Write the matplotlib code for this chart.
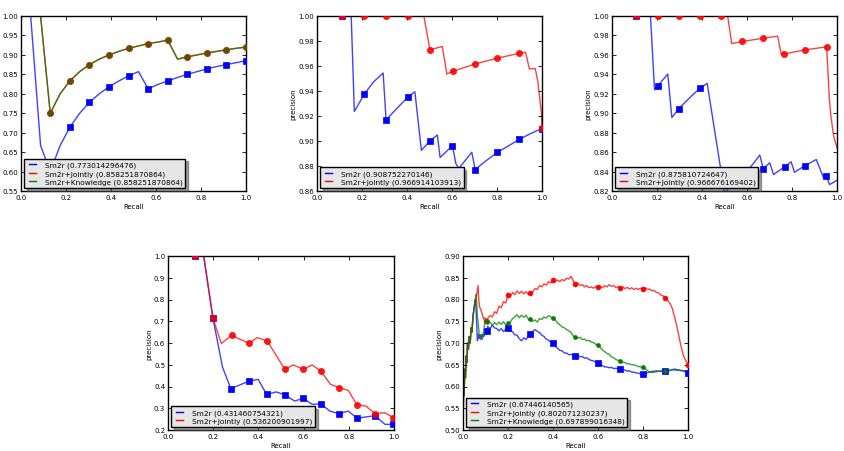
import matplotlib
matplotlib.use('Agg')
import matplotlib.pyplot as plt
from matplotlib.ticker import FormatStrFormatter, MultipleLocator

# ---------------- data ----------------
# Plot 1
p1_recall = [0.043, 0.087, 0.130, 0.174, 0.217, 0.261, 0.304, 0.348, 0.391, 0.435, 0.478, 0.522,
             0.565, 0.609, 0.652, 0.696, 0.739, 0.783, 0.826, 0.870, 0.913, 0.957, 1.0]
p1_sm2r = [1.0, 0.667, 0.600, 0.667, 0.714, 0.750, 0.778, 0.800, 0.818, 0.833, 0.846, 0.857,
           0.813, 0.824, 0.833, 0.842, 0.850, 0.857, 0.864, 0.870, 0.875, 0.880, 0.885]
p1_jointly = [1.0, 1.0, 0.750, 0.800, 0.833, 0.857, 0.875, 0.889, 0.900, 0.909, 0.917, 0.923,
              0.929, 0.933, 0.938, 0.889, 0.895, 0.900, 0.905, 0.909, 0.913, 0.917, 0.920]
p1_knowledge = [1.0, 1.0, 0.750, 0.800, 0.833, 0.857, 0.875, 0.889, 0.900, 0.909, 0.917, 0.923,
                0.929, 0.933, 0.938, 0.889, 0.895, 0.900, 0.905, 0.909, 0.913, 0.917, 0.920]
p1_labels = ['Sm2r (0.773014296476)', 'Sm2r+Jointly (0.858251870864)',
             'Sm2r+Knowledge (0.858251870864)']

# Plot 2
p2_sm2r_r = [0.111, 0.152, 0.166, 0.21, 0.25, 0.294, 0.307, 0.36, 0.406, 0.435, 0.464, 0.502, 0.535,
             0.547, 0.602, 0.617, 0.63, 0.688, 0.703, 0.75, 0.801, 0.85, 0.899, 0.95, 1.0]
p2_sm2r_p = [1.0, 1.0, 0.9236, 0.9375, 0.947, 0.9544, 0.9169, 0.927, 0.9356, 0.9394, 0.8925, 0.9002,
             0.9048, 0.8868, 0.8962, 0.882, 0.878, 0.891, 0.8772, 0.884, 0.8909, 0.896, 0.9013, 0.906, 0.910]
p2_sm2r_mr = [0.111, 0.21, 0.307, 0.406, 0.502, 0.602, 0.703, 0.801, 0.899, 1.0]
p2_sm2r_mp = [1.0, 0.9375, 0.9169, 0.9356, 0.9002, 0.8962, 0.8772, 0.8909, 0.9013, 0.910]
p2_joint_r = [0.111, 0.21, 0.307, 0.406, 0.475, 0.502, 0.557, 0.577, 0.605, 0.703, 0.801, 0.899,
              0.927, 0.944, 0.970, 0.982, 0.997, 1.0]
p2_joint_p = [1.0, 1.0, 1.0, 1.0, 1.0, 0.973, 0.9756, 0.9536, 0.9558, 0.9617, 0.9662, 0.9702,
              0.971, 0.9576, 0.958, 0.947, 0.923, 0.9107]
p2_joint_mr = [0.111, 0.21, 0.307, 0.406, 0.502, 0.605, 0.703, 0.801, 0.899, 1.0]
p2_joint_mp = [1.0, 1.0, 1.0, 1.0, 0.973, 0.9558, 0.9617, 0.9662, 0.9702, 0.9107]
p2_labels = ['Sm2r (0.908752270146)', 'Sm2r+Jointly (0.966914103913)']

# Plot 3
p3_sm2r_r = [0.108, 0.171, 0.189, 0.204, 0.248, 0.266, 0.297, 0.35, 0.392, 0.423, 0.50, 0.55, 0.60,
             0.657, 0.672, 0.701, 0.718, 0.767, 0.796, 0.811, 0.859, 0.908, 0.941, 0.952, 0.967, 1.0]
p3_sm2r_p = [1.0, 1.0, 0.924, 0.9283, 0.9403, 0.8955, 0.9048, 0.917, 0.9259, 0.9307, 0.818, 0.83,
             0.84, 0.857, 0.843, 0.849, 0.837, 0.8448, 0.85, 0.8393, 0.8462, 0.8524, 0.8331, 0.8359,
             0.8266, 0.831]
p3_sm2r_mr = [0.108, 0.204, 0.297, 0.392, 0.672, 0.767, 0.859, 0.952]
p3_sm2r_mp = [1.0, 0.9283, 0.9048, 0.9259, 0.843, 0.8448, 0.8462, 0.8359]
p3_joint_r = [0.108, 0.204, 0.299, 0.392, 0.486, 0.514, 0.532, 0.580, 0.673, 0.736, 0.752, 0.765,
              0.859, 0.954, 0.966, 0.973, 0.985, 1.0]
p3_joint_p = [1.0, 1.0, 1.0, 1.0, 1.0, 1.0, 0.9717, 0.9738, 0.9772, 0.9793, 0.961, 0.961,
              0.9652, 0.9683, 0.9145, 0.897, 0.8766, 0.8645]
p3_joint_mr = [0.108, 0.204, 0.299, 0.392, 0.486, 0.580, 0.673, 0.765, 0.859, 0.954]
p3_joint_mp = [1.0, 1.0, 1.0, 1.0, 1.0, 0.9738, 0.9772, 0.961, 0.9652, 0.9683]
p3_labels = ['Sm2r (0.875810724647)', 'Sm2r+Jointly (0.966676169402)']

# Plot 4
p4_sm2r_r = [0.037, 0.118, 0.158, 0.199, 0.241, 0.278, 0.359, 0.399, 0.436, 0.48, 0.517, 0.561,
             0.598, 0.638, 0.677, 0.716, 0.756, 0.798, 0.836, 0.876, 0.916, 0.96, 0.997]
p4_sm2r_p = [1.0, 1.0, 1.0, 0.713, 0.49, 0.39, 0.425, 0.433, 0.364, 0.375, 0.361, 0.333,
             0.346, 0.318, 0.320, 0.287, 0.275, 0.287, 0.254, 0.260, 0.266, 0.226, 0.226]
p4_sm2r_mr = [0.118, 0.199, 0.278, 0.359, 0.436, 0.517, 0.598, 0.677, 0.756, 0.836, 0.916, 0.997]
p4_sm2r_mp = [1.0, 0.713, 0.39, 0.425, 0.364, 0.361, 0.346, 0.320, 0.275, 0.254, 0.266, 0.226]
p4_joint_r = [0.037, 0.118, 0.158, 0.199, 0.236, 0.281, 0.359, 0.394, 0.439, 0.517, 0.554, 0.598,
              0.638, 0.677, 0.719, 0.756, 0.798, 0.835, 0.876, 0.916, 0.959, 0.997]
p4_joint_p = [1.0, 1.0, 1.0, 0.713, 0.598, 0.635, 0.598, 0.625, 0.609, 0.479, 0.499, 0.48,
              0.499, 0.47, 0.41, 0.395, 0.382, 0.316, 0.31, 0.275, 0.28, 0.257]
p4_joint_mr = [0.118, 0.199, 0.281, 0.359, 0.439, 0.517, 0.598, 0.677, 0.756, 0.835, 0.916, 0.997]
p4_joint_mp = [1.0, 0.713, 0.635, 0.598, 0.609, 0.479, 0.48, 0.47, 0.395, 0.316, 0.275, 0.257]
p4_labels = ['Sm2r (0.431460754321)', 'Sm2r+Jointly (0.536200901997)']

# Plot 5
p5_start_r = [0.0, 0.003, 0.005, 0.008, 0.011, 0.014, 0.017, 0.02, 0.024, 0.028, 0.032, 0.036,
              0.04, 0.044, 0.048, 0.052, 0.055]
p5_start_p = [0.50, 0.60, 0.58, 0.64, 0.62, 0.67, 0.655, 0.70, 0.685, 0.715, 0.70, 0.735,
              0.725, 0.76, 0.775, 0.79, 0.80]
p5_sm2r_r = [0.058, 0.062, 0.064, 0.068, 0.072, 0.076, 0.08, 0.086, 0.092, 0.105,
             0.11, 0.12, 0.13, 0.14, 0.15, 0.16, 0.17, 0.18, 0.19, 0.20,
             0.21, 0.22, 0.23, 0.24, 0.25, 0.26, 0.27, 0.28, 0.29, 0.30,
             0.31, 0.32, 0.33, 0.34, 0.35, 0.36, 0.37, 0.38, 0.39, 0.40,
             0.41, 0.42, 0.43, 0.44, 0.45, 0.46, 0.47, 0.48, 0.49, 0.50,
             0.51, 0.52, 0.53, 0.54, 0.55, 0.56, 0.57, 0.58, 0.59, 0.60,
             0.61, 0.62, 0.63, 0.64, 0.65, 0.66, 0.67, 0.68, 0.69, 0.70,
             0.71, 0.72, 0.73, 0.74, 0.75, 0.76, 0.77, 0.78, 0.79, 0.80,
             0.81, 0.82, 0.83, 0.84, 0.85, 0.86, 0.87, 0.88, 0.89, 0.90,
             0.91, 0.92, 0.93, 0.94, 0.95, 0.96, 0.97, 0.98, 0.99, 1.00]
p5_sm2r_p = [0.78, 0.73, 0.705, 0.72, 0.71, 0.718, 0.708, 0.72, 0.715, 0.728,
             0.738, 0.733, 0.741, 0.735, 0.733, 0.728, 0.733, 0.726, 0.732, 0.734,
             0.728, 0.726, 0.719, 0.718, 0.710, 0.705, 0.712, 0.708, 0.716, 0.721,
             0.726, 0.731, 0.727, 0.724, 0.718, 0.715, 0.709, 0.706, 0.702, 0.699,
             0.692, 0.688, 0.683, 0.682, 0.677, 0.677, 0.673, 0.674, 0.671, 0.671,
             0.672, 0.668, 0.669, 0.665, 0.666, 0.662, 0.660, 0.659, 0.656, 0.655,
             0.650, 0.648, 0.645, 0.645, 0.643, 0.644, 0.641, 0.642, 0.640, 0.640,
             0.638, 0.638, 0.635, 0.636, 0.633, 0.633, 0.631, 0.631, 0.628, 0.628,
             0.629, 0.632, 0.633, 0.635, 0.635, 0.636, 0.635, 0.636, 0.635, 0.635,
             0.636, 0.637, 0.639, 0.640, 0.639, 0.638, 0.637, 0.636, 0.633, 0.632]
p5_joint_r = [0.058, 0.062, 0.067, 0.07, 0.074, 0.08, 0.086, 0.092, 0.098, 0.104,
              0.11, 0.12, 0.13, 0.14, 0.15, 0.16, 0.17, 0.18, 0.19, 0.20,
              0.21, 0.22, 0.23, 0.24, 0.25, 0.26, 0.27, 0.28, 0.29, 0.30,
              0.31, 0.32, 0.33, 0.34, 0.35, 0.36, 0.37, 0.38, 0.39, 0.40,
              0.41, 0.42, 0.43, 0.44, 0.45, 0.46, 0.47, 0.48, 0.49, 0.50,
              0.51, 0.52, 0.53, 0.54, 0.55, 0.56, 0.57, 0.58, 0.59, 0.60,
              0.61, 0.62, 0.63, 0.64, 0.65, 0.66, 0.67, 0.68, 0.69, 0.70,
              0.71, 0.72, 0.73, 0.74, 0.75, 0.76, 0.77, 0.78, 0.79, 0.80,
              0.81, 0.82, 0.83, 0.84, 0.85, 0.86, 0.87, 0.88, 0.89, 0.90,
              0.91, 0.92, 0.93, 0.94, 0.95, 0.96, 0.97, 0.98, 0.99, 1.00]
p5_joint_p = [0.805, 0.815, 0.832, 0.80, 0.782, 0.776, 0.765, 0.755, 0.758, 0.750,
              0.757, 0.763, 0.760, 0.772, 0.768, 0.785, 0.781, 0.795, 0.792, 0.810,
              0.806, 0.816, 0.811, 0.820, 0.814, 0.819, 0.813, 0.818, 0.812, 0.815,
              0.818, 0.825, 0.823, 0.832, 0.829, 0.836, 0.833, 0.841, 0.838, 0.845,
              0.842, 0.845, 0.841, 0.846, 0.843, 0.849, 0.847, 0.853, 0.843, 0.835,
              0.838, 0.832, 0.834, 0.829, 0.832, 0.827, 0.829, 0.826, 0.830, 0.828,
              0.830, 0.827, 0.832, 0.829, 0.834, 0.830, 0.832, 0.827, 0.830, 0.827,
              0.829, 0.825, 0.828, 0.824, 0.827, 0.823, 0.826, 0.823, 0.826, 0.825,
              0.827, 0.823, 0.824, 0.820, 0.821, 0.816, 0.815, 0.810, 0.808, 0.803,
              0.797, 0.791, 0.780, 0.760, 0.740, 0.715, 0.690, 0.670, 0.660, 0.650]
p5_know_r = [0.059, 0.064, 0.068, 0.072, 0.076, 0.08, 0.086, 0.092, 0.096, 0.105,
             0.11, 0.12, 0.13, 0.14, 0.15, 0.16, 0.17, 0.18, 0.19, 0.20,
             0.21, 0.22, 0.23, 0.24, 0.25, 0.26, 0.27, 0.28, 0.29, 0.30,
             0.31, 0.32, 0.33, 0.34, 0.35, 0.36, 0.37, 0.38, 0.39, 0.40,
             0.41, 0.42, 0.43, 0.44, 0.45, 0.46, 0.47, 0.48, 0.49, 0.50,
             0.51, 0.52, 0.53, 0.54, 0.55, 0.56, 0.57, 0.58, 0.59, 0.60,
             0.61, 0.62, 0.63, 0.64, 0.65, 0.66, 0.67, 0.68, 0.69, 0.70,
             0.71, 0.72, 0.73, 0.74, 0.75, 0.76, 0.77, 0.78, 0.79, 0.80,
             0.81, 0.82, 0.83, 0.84, 0.85, 0.86, 0.87, 0.88, 0.89, 0.90,
             0.91, 0.92, 0.93, 0.94, 0.95, 0.96, 0.97, 0.98, 0.99, 1.00]
p5_know_p = [0.812, 0.760, 0.743, 0.720, 0.714, 0.720, 0.708, 0.728, 0.743, 0.750,
             0.742, 0.748, 0.741, 0.747, 0.742, 0.748, 0.743, 0.749, 0.741, 0.745,
             0.748, 0.756, 0.760, 0.765, 0.758, 0.764, 0.759, 0.764, 0.755, 0.755,
             0.750, 0.753, 0.748, 0.756, 0.754, 0.760, 0.757, 0.763, 0.760, 0.757,
             0.753, 0.746, 0.742, 0.737, 0.735, 0.731, 0.728, 0.724, 0.716, 0.713,
             0.711, 0.713, 0.708, 0.709, 0.705, 0.706, 0.702, 0.701, 0.697, 0.696,
             0.690, 0.684, 0.680, 0.676, 0.674, 0.668, 0.666, 0.662, 0.660, 0.659,
             0.656, 0.655, 0.652, 0.652, 0.650, 0.650, 0.648, 0.646, 0.645, 0.645,
             0.641, 0.637, 0.633, 0.632, 0.633, 0.634, 0.635, 0.635, 0.636, 0.636,
             0.637, 0.637, 0.638, 0.638, 0.637, 0.637, 0.636, 0.636, 0.636, 0.635]
p5_sm2r_mr = [0.105, 0.20, 0.30, 0.40, 0.50, 0.60, 0.70, 0.80, 0.90, 1.00]
p5_sm2r_mp = [0.728, 0.734, 0.721, 0.699, 0.671, 0.655, 0.640, 0.628, 0.635, 0.632]
p5_joint_mr = [0.104, 0.20, 0.30, 0.40, 0.50, 0.60, 0.70, 0.80, 0.90, 1.00]
p5_joint_mp = [0.750, 0.810, 0.815, 0.845, 0.835, 0.828, 0.827, 0.825, 0.803, 0.650]
p5_know_mr = [0.105, 0.20, 0.30, 0.40, 0.50, 0.60, 0.70, 0.80, 0.90]
p5_know_mp = [0.750, 0.745, 0.755, 0.757, 0.713, 0.696, 0.659, 0.645, 0.636]
p5_labels = ['Sm2r (0.67446140565)', 'Sm2r+Jointly (0.802071230237)',
             'Sm2r+Knowledge (0.697899016348)']

# ---------------- drawing ----------------
plt.style.use('classic')
plt.rcParams['font.family'] = ['DejaVu Sans']
plt.rcParams['savefig.facecolor'] = 'white'

fig = plt.figure(figsize=(8.45, 4.52), dpi=100, facecolor='white')
W, H = 845.0, 452.0

def make_ax(x0, y_top, y_bot, w):
    return fig.add_axes([x0 / W, 1 - y_bot / H, w / W, (y_bot - y_top) / H])

ax1 = make_ax(21, 17, 192, 225)
ax2 = make_ax(317, 17, 192, 225)
ax3 = make_ax(612, 17, 192, 225)
ax4 = make_ax(168, 257, 431, 226)
ax5 = make_ax(463, 257, 431, 225)

BLUE, RED, GREEN = '#0000ff', '#ff0000', '#008000'
LA = 0.75

def style(ax, ylo, yhi, ystep, yfmt):
    ax.set_xlim(0, 1)
    ax.set_ylim(ylo, yhi)
    ax.xaxis.set_major_locator(MultipleLocator(0.2))
    ax.yaxis.set_major_locator(MultipleLocator(ystep))
    ax.xaxis.set_major_formatter(FormatStrFormatter('%.1f'))
    ax.yaxis.set_major_formatter(FormatStrFormatter(yfmt))
    ax.tick_params(axis='both', which='major', labelsize=5, length=3, width=0.6,
                   pad=2, direction='in', top=True, right=True, colors='black')
    ax.tick_params(which='minor', length=0)
    for s in ax.spines.values():
        s.set_linewidth(1.0)
    ax.set_xlabel('Recall', fontsize=5, labelpad=2)
    ax.set_ylabel('precision', fontsize=5, labelpad=1.5)
    ax.set_facecolor('white')

def legend(ax):
    leg = ax.legend(loc='lower left', fontsize=5.3, handlelength=1.6, handletextpad=0.9,
                    borderpad=0.35, labelspacing=0.3, borderaxespad=0.4, shadow=True,
                    fancybox=False, frameon=True, numpoints=2)
    fr = leg.get_frame()
    fr.set_facecolor('#e6e6e6')
    fr.set_edgecolor('black')
    fr.set_linewidth(1.0)
    for l in leg.get_lines():
        l.set_linewidth(1.0)
        l.set_alpha(1.0)
    leg.set_zorder(10)

def line(ax, r, p, color, label, alpha=LA, z=2):
    ax.plot(r, p, color=color, lw=1.0, alpha=alpha, label=label, zorder=z)

def marks(ax, r, p, color, marker, ms, alpha=1.0, z=3):
    ax.plot(r, p, ls='none', marker=marker, ms=ms, color=color, mec=color, mew=0.5,
            alpha=alpha, zorder=z)

# Plot 1
line(ax1, p1_recall, p1_sm2r, BLUE, p1_labels[0])
marks(ax1, p1_recall[2::2], p1_sm2r[2::2], BLUE, 's', 4.5)
line(ax1, p1_recall, p1_jointly, RED, p1_labels[1], z=2.1)
marks(ax1, p1_recall[2::2], p1_jointly[2::2], RED, 'o', 4.5, z=3.1)
line(ax1, p1_recall, p1_knowledge, GREEN, p1_labels[2], z=2.2)
marks(ax1, p1_recall[2::2], p1_knowledge[2::2], GREEN, 'o', 3.5, alpha=0.75, z=3.2)
style(ax1, 0.55, 1.0, 0.05, '%.2f')
legend(ax1)

# Plot 2
line(ax2, p2_sm2r_r, p2_sm2r_p, BLUE, p2_labels[0])
marks(ax2, p2_sm2r_mr, p2_sm2r_mp, BLUE, 's', 4.5)
line(ax2, p2_joint_r, p2_joint_p, RED, p2_labels[1], z=2.1)
marks(ax2, p2_joint_mr, p2_joint_mp, RED, 'o', 4.5, alpha=0.9, z=3.1)
style(ax2, 0.86, 1.0, 0.02, '%.2f')
legend(ax2)

# Plot 3
line(ax3, p3_sm2r_r, p3_sm2r_p, BLUE, p3_labels[0])
marks(ax3, p3_sm2r_mr, p3_sm2r_mp, BLUE, 's', 4.5)
line(ax3, p3_joint_r, p3_joint_p, RED, p3_labels[1], z=2.1)
marks(ax3, p3_joint_mr, p3_joint_mp, RED, 'o', 4.5, alpha=0.9, z=3.1)
style(ax3, 0.82, 1.0, 0.02, '%.2f')
legend(ax3)

# Plot 4
line(ax4, p4_sm2r_r, p4_sm2r_p, BLUE, p4_labels[0])
marks(ax4, p4_sm2r_mr, p4_sm2r_mp, BLUE, 's', 4.5)
line(ax4, p4_joint_r, p4_joint_p, RED, p4_labels[1], z=2.1)
marks(ax4, p4_joint_mr, p4_joint_mp, RED, 'o', 4.5, alpha=0.9, z=3.1)
style(ax4, 0.2, 1.0, 0.1, '%.1f')
legend(ax4)

# Plot 5
line(ax5, p5_start_r + p5_sm2r_r, p5_start_p + p5_sm2r_p, BLUE, p5_labels[0])
marks(ax5, p5_sm2r_mr, p5_sm2r_mp, BLUE, 's', 3.8)
line(ax5, p5_start_r + p5_joint_r, p5_start_p + p5_joint_p, RED, p5_labels[1], z=2.1)
marks(ax5, p5_joint_mr, p5_joint_mp, RED, 'o', 3.5, z=3.1)
line(ax5, p5_start_r + p5_know_r, p5_start_p + p5_know_p, GREEN, p5_labels[2], z=2.2)
marks(ax5, p5_know_mr, p5_know_mp, GREEN, 'o', 2.8, z=3.2)
style(ax5, 0.5, 0.9, 0.05, '%.2f')
legend(ax5)

fig.savefig('out.png', dpi=100, facecolor='white')
